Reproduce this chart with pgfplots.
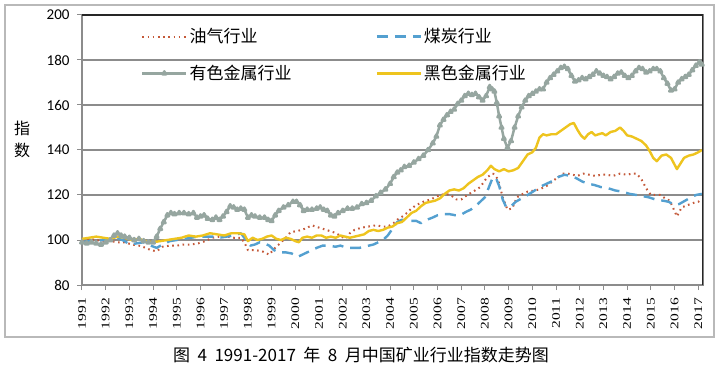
\documentclass[border=0pt]{standalone}
\usepackage{pgfplots}
\pgfplotsset{compat=1.18}
\usepackage{graphicx}
\usepackage{fontspec}
\setmainfont{Liberation Sans}
\newfontfamily\cjk{Noto Sans CJK SC}
\newfontfamily\ytf{Carlito}
\newfontfamily\xtf{Liberation Serif}
\definecolor{oilc}{RGB}{196,89,57}
\definecolor{coalc}{RGB}{84,160,208}
\definecolor{nfc}{RGB}{150,166,160}
\definecolor{fec}{RGB}{238,196,30}
\definecolor{gridc}{RGB}{140,140,140}
\begin{document}
\begin{tikzpicture}
\useasboundingbox (-82bp,-82bp) rectangle (638bp,285bp);
\fill[white] (-82bp,-82bp) rectangle (638bp,285bp);
\draw[color=gray!55, line width=1.5bp] (-77bp,-52bp) rectangle (632bp,280bp);
\begin{axis}[
  scale only axis, width=621bp, height=270bp,
  at={(0,0)}, anchor=south west,
  xmin=1991, xmax=2017.2, ymin=80, ymax=200,
  xtick={1991,1992,...,2017},
  xticklabel={\scalebox{1}[0.75]{\pgfmathprintnumber{\tick}}},
  ytick={80,100,...,200},
  ymajorgrids, grid style={gridc, line width=1.1bp},
  axis line style={gridc, line width=1.2bp},
  tick style={gridc, line width=1bp},
  tick align=outside, major tick length=5bp, tick pos=left,
  /pgf/number format/1000 sep={},
  /pgf/number format/assume math mode=true,
  x tick label style={font=\xtf\fontsize{15.5bp}{15.5bp}\selectfont, rotate=90, anchor=east, inner sep=2bp, xshift=-6bp},
  y tick label style={font=\ytf\fontsize{15bp}{15bp}\selectfont, xshift=-4bp},
  ylabel={指\\数},
  ylabel style={rotate=-90, align=center, font=\cjk\fontsize{16bp}{22bp}\selectfont, at={(axis description cs:-0.0966,0.54)}, anchor=center},
  legend columns=2,
  legend cell align=left,
  legend style={at={(axis description cs:0.09,0.965)}, anchor=north west, draw=none, fill=none,
    font=\cjk\fontsize{17bp}{17bp}\selectfont, row sep=17bp,
    /tikz/every even column/.append style={column sep=82bp}},
  legend image code/.code={\draw[mark repeat=2,mark phase=2,#1] plot coordinates {(0bp,0bp) (22bp,0bp) (44bp,0bp)};},
  every axis plot/.append style={line join=round},
]
% oil
\addplot[oilc, line width=2bp, dash pattern=on 1.6bp off 3.6bp] coordinates {
(1991.0,100) (1991.3,100.5) (1991.6,100) (1991.9,99.5) (1992.2,99.5) (1992.5,99) (1992.8,99)
(1993.1,98) (1993.4,97.5) (1993.7,96.5) (1993.9,95.5) (1994.15,95) (1994.4,97) (1994.7,97.5)
(1995.0,97.5) (1995.3,98) (1995.6,98) (1995.9,98.5) (1996.2,99.5) (1996.5,101) (1996.8,101.5)
(1997.1,101.5) (1997.4,101) (1997.7,101) (1997.85,99) (1998.0,95.5) (1998.3,95.5) (1998.6,95)
(1998.9,93.5) (1999.1,96) (1999.35,98.5) (1999.6,101) (1999.8,103.5) (2000.1,104) (2000.4,105)
(2000.7,106.5) (2001.0,105.5) (2001.3,104.5) (2001.6,103.5) (2001.9,102) (2002.1,100.5) (2002.3,103)
(2002.5,104.5) (2002.8,105.5) (2003.1,106) (2003.4,106.5) (2003.7,106) (2003.9,106) (2004.15,107.5)
(2004.3,109) (2004.6,111) (2004.9,114) (2005.1,115.5) (2005.4,117) (2005.7,118) (2006.0,119.5)
(2006.3,120.5) (2006.55,120) (2006.8,118) (2007.0,118) (2007.25,120) (2007.5,121.5) (2007.8,123.5)
(2008.1,128) (2008.35,129.5) (2008.55,127) (2008.75,119) (2008.95,113.5) (2009.15,114) (2009.35,119)
(2009.6,120.5) (2009.8,121.5) (2010.1,122) (2010.3,122.5) (2010.6,124) (2010.9,126.5) (2011.1,128)
(2011.3,129.5) (2011.5,129.5) (2011.7,129) (2011.9,128.5) (2012.15,129.5) (2012.4,129) (2012.65,128.5)
(2012.9,129) (2013.15,129) (2013.4,128.5) (2013.7,129.5) (2014.0,129) (2014.2,129.5) (2014.4,129.5)
(2014.6,127) (2014.8,123) (2015.0,120) (2015.2,120) (2015.4,120) (2015.6,118.5) (2015.8,117.5)
(2015.95,114) (2016.1,110.5) (2016.3,114.5) (2016.55,115.5) (2016.8,116.5) (2017.0,117) (2017.15,118)
};
\addlegendentry{油气行业}
% coal
\addplot[coalc, line width=2.4bp, dash pattern=on 11bp off 7bp] coordinates {
(1991.0,99) (1991.3,99.5) (1991.6,99.5) (1991.9,100) (1992.2,100.5) (1992.5,101) (1992.8,99.5)
(1993.0,98) (1993.3,98.5) (1993.6,99) (1993.9,97.5) (1994.15,96.5) (1994.4,98) (1994.7,99.5)
(1995.0,100) (1995.3,100.5) (1995.6,101) (1995.9,101.5) (1996.2,101.5) (1996.5,101.5) (1996.8,101)
(1997.1,101.5) (1997.4,102) (1997.7,103) (1997.85,101) (1998.1,97.5) (1998.3,98) (1998.5,99)
(1998.7,98.5) (1998.9,97.5) (1999.1,95.5) (1999.3,94.5) (1999.6,94.5) (1999.85,94) (2000.1,92.5)
(2000.3,93.5) (2000.5,94.5) (2000.7,95.5) (2000.9,96.5) (2001.15,97.5) (2001.4,97.5) (2001.7,97)
(2001.9,97.5) (2002.2,96.5) (2002.45,96.5) (2002.7,96.5) (2002.9,97) (2003.1,97.5) (2003.3,98)
(2003.5,99) (2003.7,100) (2003.9,102) (2004.1,105) (2004.3,108) (2004.5,109) (2004.8,108.5)
(2005.1,108.5) (2005.3,107.5) (2005.55,109) (2005.8,110) (2006.0,111) (2006.3,111.5) (2006.5,111.5)
(2006.75,111) (2006.95,111) (2007.2,112.5) (2007.4,113.5) (2007.6,115) (2007.8,117) (2008.0,119)
(2008.15,123) (2008.3,127) (2008.45,128) (2008.6,124) (2008.75,118) (2008.9,114.5) (2009.1,115)
(2009.3,117) (2009.55,118.5) (2009.8,120) (2010.1,122) (2010.3,123.5) (2010.6,125) (2010.9,126.5)
(2011.1,128) (2011.35,129) (2011.6,128.5) (2011.85,127.5) (2012.1,126) (2012.35,125) (2012.6,124.5)
(2012.9,123.5) (2013.2,123) (2013.5,122) (2013.8,121.5) (2014.1,120.5) (2014.4,120) (2014.65,119.5)
(2014.9,119) (2015.2,118) (2015.5,117.5) (2015.75,117) (2016.0,115.5) (2016.2,116) (2016.45,117.5)
(2016.7,119) (2016.9,120) (2017.15,120.5)
};
\addlegendentry{煤炭行业}
% non-ferrous
\addplot[nfc, line width=2.5bp, mark=triangle*, mark size=2bp, mark options={solid, fill=nfc, draw=nfc}] coordinates {
(1991.0,99) (1991.2,98.5) (1991.4,99) (1991.6,98.5) (1991.8,98) (1992.0,99) (1992.2,100) (1992.35,102)
(1992.5,103) (1992.65,102) (1992.8,101.5) (1993.0,101) (1993.2,100) (1993.4,100.5) (1993.6,99.5)
(1993.8,99) (1994.0,99) (1994.15,101.5) (1994.3,105) (1994.45,108) (1994.6,111) (1994.75,112)
(1994.9,111.5) (1995.1,112) (1995.3,112) (1995.5,111.5) (1995.7,112) (1995.85,110) (1996.0,110.5)
(1996.15,111) (1996.3,109.5) (1996.5,109) (1996.65,110) (1996.8,109) (1996.95,110.5) (1997.1,112.5)
(1997.25,115) (1997.4,114.5) (1997.55,113.5) (1997.7,114) (1997.85,113.5) (1998.0,110) (1998.15,111)
(1998.3,110.5) (1998.5,110) (1998.7,110) (1998.85,109) (1999.0,108.5) (1999.15,111) (1999.3,113)
(1999.5,114.5) (1999.7,115.5) (1999.9,117) (2000.05,117) (2000.2,115.5) (2000.35,113) (2000.5,113.5)
(2000.7,113.5) (2000.9,114) (2001.05,114.5) (2001.2,113.5) (2001.35,113) (2001.5,111) (2001.65,110.5)
(2001.8,112) (2002.0,113) (2002.2,114) (2002.4,114) (2002.6,114.5) (2002.8,116) (2003.0,116.5)
(2003.2,117.5) (2003.4,119.5) (2003.6,121) (2003.8,122.5) (2004.0,125) (2004.15,128) (2004.3,130)
(2004.45,131) (2004.6,132.5) (2004.8,133) (2005.0,134.5) (2005.2,136) (2005.4,137.5) (2005.6,140)
(2005.8,143) (2005.95,146) (2006.1,151) (2006.25,153.5) (2006.4,155.5) (2006.55,157) (2006.7,158)
(2006.85,160.5) (2007.0,162) (2007.15,164) (2007.3,165) (2007.45,164.5) (2007.6,165) (2007.75,163.5)
(2007.9,162) (2008.05,164) (2008.2,168) (2008.3,167) (2008.4,166) (2008.5,161) (2008.6,155)
(2008.7,150) (2008.8,145) (2008.95,141) (2009.1,144) (2009.25,150) (2009.4,155) (2009.55,159)
(2009.7,162) (2009.85,164) (2010.0,165) (2010.15,166) (2010.3,167) (2010.45,167) (2010.6,170)
(2010.75,172) (2010.9,173.5) (2011.05,175) (2011.2,176.5) (2011.35,177) (2011.5,176) (2011.65,173)
(2011.8,170.5) (2011.95,171) (2012.1,172) (2012.25,171.5) (2012.4,172.5) (2012.55,173.5) (2012.7,175)
(2012.85,174) (2013.0,173) (2013.15,172.5) (2013.3,171.5) (2013.45,172.5) (2013.6,174) (2013.75,174.5)
(2013.9,173) (2014.05,172) (2014.2,173) (2014.35,175) (2014.5,176.5) (2014.65,176) (2014.8,174.5)
(2014.95,175) (2015.1,176) (2015.25,176) (2015.4,175) (2015.55,172) (2015.7,169.5) (2015.85,166.5)
(2016.0,167) (2016.15,170) (2016.3,171.5) (2016.45,172.5) (2016.6,173.5) (2016.75,175.5) (2016.9,177.5)
(2017.05,179) (2017.15,178)
};
\addlegendentry{有色金属行业}
% ferrous
\addplot[fec, line width=2.4bp] coordinates {
(1991.0,100.5) (1991.3,101) (1991.6,101.5) (1991.9,101) (1992.2,100.5) (1992.5,101.5) (1992.8,101)
(1993.1,100) (1993.4,100.5) (1993.7,99.5) (1994.0,99) (1994.3,99.5) (1994.6,100) (1994.9,100.5)
(1995.2,101) (1995.5,102) (1995.8,101.5) (1996.1,102) (1996.4,103) (1996.7,102.5) (1997.0,102)
(1997.3,103) (1997.6,103) (1997.85,102.5) (1998.0,99.5) (1998.2,101) (1998.4,100) (1998.6,100.5)
(1998.8,101.5) (1999.0,102) (1999.2,100.5) (1999.4,100) (1999.6,101) (1999.8,100.5) (2000.0,99.5)
(2000.15,99) (2000.3,101) (2000.5,101.5) (2000.7,101) (2000.9,102) (2001.1,102) (2001.3,101)
(2001.5,101.5) (2001.7,101) (2001.9,102) (2002.1,101.5) (2002.3,101) (2002.5,101.5) (2002.7,102)
(2002.9,102.5) (2003.1,104) (2003.3,104.5) (2003.5,104) (2003.7,104.5) (2003.9,105.5) (2004.1,106)
(2004.3,107.5) (2004.5,108) (2004.7,110) (2004.9,112) (2005.1,113) (2005.3,115) (2005.5,116.5)
(2005.7,117) (2005.9,117.5) (2006.1,118.5) (2006.3,120.5) (2006.5,122) (2006.7,122.5) (2006.9,122)
(2007.1,123) (2007.3,125) (2007.5,126.5) (2007.7,128) (2007.9,129) (2008.1,131) (2008.25,133)
(2008.4,131.5) (2008.6,130.5) (2008.8,131.5) (2009.0,130.5) (2009.2,131) (2009.4,132) (2009.6,135)
(2009.8,138) (2010.0,139) (2010.15,141) (2010.3,145.5) (2010.45,147) (2010.6,146.5) (2010.8,147)
(2011.0,147) (2011.2,148.5) (2011.4,150) (2011.6,151.5) (2011.75,152) (2011.9,149) (2012.05,146.5)
(2012.2,145) (2012.35,147) (2012.5,148) (2012.65,146.5) (2012.8,147) (2012.95,147.5) (2013.1,146.5)
(2013.3,148) (2013.5,148.5) (2013.7,150) (2013.85,148.5) (2014.0,146.5) (2014.2,146) (2014.4,145)
(2014.6,144) (2014.8,142) (2014.95,139.5) (2015.1,136.5) (2015.25,135) (2015.45,137.5) (2015.65,138)
(2015.85,136.5) (2016.0,133.5) (2016.1,131.5) (2016.25,134) (2016.4,136.5) (2016.6,137.5) (2016.8,138)
(2017.0,139) (2017.15,140)
};
\addlegendentry{黑色金属行业}
\draw[black!85, line width=1.2bp] (rel axis cs:0,1) -- (rel axis cs:1,1) -- (rel axis cs:1,0);
\end{axis}
\node[font=\cjk\fontsize{17bp}{17bp}\selectfont] at (279bp,-70bp) {图\hspace{7.5bp}4\hspace{7.5bp}1991-2017\hspace{7.5bp}年\hspace{7.5bp}8\hspace{7.5bp}月中国矿业行业指数走势图};
\end{tikzpicture}
\end{document}
